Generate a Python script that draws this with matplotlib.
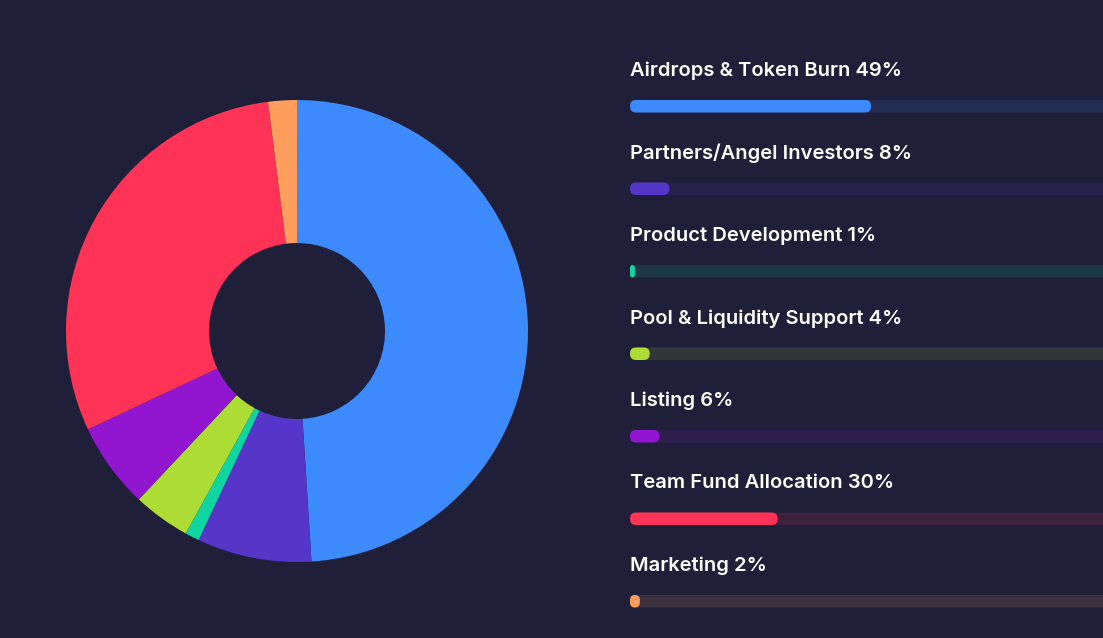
import matplotlib
matplotlib.use('Agg')
import matplotlib.pyplot as plt
from matplotlib.patches import FancyBboxPatch
from matplotlib.colors import to_rgb

# token allocation data
labels = ['Airdrops & Token Burn', 'Partners/Angel Investors', 'Product Development',
          'Pool & Liquidity Support', 'Listing', 'Team Fund Allocation', 'Marketing']
shares = [49, 8, 1, 4, 6, 30, 2]
colors = ['#3d8afc', '#5536c8', '#0fd6a0', '#addd34', '#9216d0', '#ff3355', '#ff9d5c']

BG = '#1f1f3a'
W, H = 1103, 638


def blend(c, alpha, bg=BG):
    c1 = to_rgb(c)
    c0 = to_rgb(bg)
    return tuple(alpha * a + (1 - alpha) * b for a, b in zip(c1, c0))


def driver():
    fig = plt.figure(figsize=(W / 100, H / 100), dpi=100)
    fig.patch.set_facecolor(BG)
    ax = fig.add_axes([0, 0, 1, 1])
    ax.set_facecolor(BG)
    ax.axis('off')

    # donut
    ax.pie(shares, colors=colors, startangle=90, counterclock=False,
           center=(297, H - 331), radius=231,
           wedgeprops=dict(width=231 - 88, linewidth=0))
    ax.set_xlim(0, W)
    ax.set_ylim(0, H)
    ax.set_aspect('auto')

    # progress bars
    x0 = 630
    full = 492
    bh = 12.5
    step = 82.5
    for i, (lab, v, c) in enumerate(zip(labels, shares, colors)):
        ybar = H - (100 + i * step) - bh
        ytxt = H - (71 + i * step)
        ax.add_patch(FancyBboxPatch((x0, ybar), full, bh,
                                    boxstyle='round,pad=0,rounding_size=6',
                                    fc=blend(c, 0.13), ec='none'))
        w = full * v / 100
        ax.add_patch(FancyBboxPatch((x0, ybar), w, bh,
                                    boxstyle='round,pad=0,rounding_size=%g' % min(6, w / 2),
                                    fc=c, ec='none'))
        ax.text(x0, ytxt, '%s %d%%' % (lab, v), color='white', fontsize=14.5,
                fontfamily='Inter', fontweight='semibold', va='center', ha='left')

    fig.savefig('out.png', dpi=100, facecolor=BG)


if __name__ == '__main__':
    driver()
